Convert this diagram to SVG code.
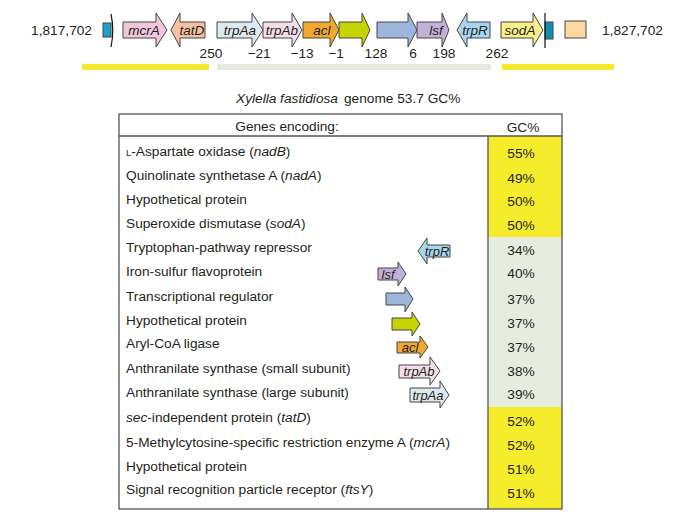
<svg xmlns="http://www.w3.org/2000/svg" width="685" height="529" viewBox="0 0 685 529">
<style>
text{font-family:"Liberation Sans",Arial,sans-serif;fill:#231f20;font-size:13.7px}
.it{font-style:italic}
.mid{text-anchor:middle}
.g{stroke:#444;stroke-width:1}
.lab{font-style:italic;text-anchor:middle;font-size:13.5px}
.tlab{font-style:italic;text-anchor:middle;font-size:13px}
</style>
<rect width="685" height="529" fill="#fff"/>
<g id="map">
  <text x="92" y="35" text-anchor="end" font-size="13.5">1,817,702</text>
  <g id="left-end">
    <rect x="103" y="23" width="8" height="14" fill="#1ca3cc" class="g"/>
    <path d="M111,14 Q114.5,30 111,47" fill="none" stroke="#111" stroke-width="1.2"/>
  </g>
  <g id="mcrA"><path class="g" fill="#f2c6dc" d="M123,22 H156 V13 L167,30 L156,47 V38 H123 Z"/><text class="lab" x="144" y="35">mcrA</text></g>
  <g id="tatD"><path class="g" fill="#f6c1a2" d="M205,22 H180 V13 L171,30 L180,47 V38 H205 Z"/><text class="lab" x="192" y="35">tatD</text></g>
  <g id="trpAa"><path class="g" fill="#dde9ef" d="M217,22 H252 V13 L263,30 L252,47 V38 H217 Z"/><text class="lab" x="240" y="35">trpAa</text></g>
  <g id="trpAb"><path class="g" fill="#f3dfea" d="M263,22 H292 V13 L302,30 L292,47 V38 H263 Z"/><text class="lab" x="282" y="35">trpAb</text></g>
  <g id="acl"><path class="g" fill="#f0a830" d="M303,22 H330 V13 L339,30 L330,47 V38 H303 Z"/><text class="lab" x="322" y="35">acl</text></g>
  <g id="hyp"><path class="g" fill="#c8d400" d="M339,22 H362 V13 L370,30 L362,47 V38 H339 Z"/></g>
  <g id="reg"><path class="g" fill="#9db7dc" d="M377,22 H408 V13 L417,30 L408,47 V38 H377 Z"/></g>
  <g id="lsf"><path class="g" fill="#c3b1dc" d="M417,22 H442 V13 L449,30 L442,47 V38 H417 Z"/><text class="lab" x="436" y="35">lsf</text></g>
  <g id="trpR"><path class="g" fill="#a9d6ee" d="M490,22 H467 V13 L457,30 L467,47 V38 H490 Z"/><text class="lab" x="475" y="35">trpR</text></g>
  <g id="sodA"><path class="g" fill="#f9f08c" d="M501,22 H533 V13 L543,30 L533,47 V38 H501 Z"/><text class="lab" x="520" y="35">sodA</text></g>
  <g id="right-end">
    <rect x="545" y="22" width="8" height="17" fill="#0e8fae" class="g"/>
    <path d="M545,13 V48" fill="none" stroke="#111" stroke-width="1.2"/>
  </g>
  <g id="box"><rect x="565" y="21" width="21" height="17" fill="#fcd9a2" class="g"/></g>
  <text x="602" y="35" font-size="13.5">1,827,702</text>
  <g>
    <text class="mid" x="211" y="58">250</text>
    <text class="mid" x="259" y="58">−21</text>
    <text class="mid" x="302" y="58">−13</text>
    <text class="mid" x="336" y="58">−1</text>
    <text class="mid" x="376" y="58">128</text>
    <text class="mid" x="413" y="58">6</text>
    <text class="mid" x="444" y="58">198</text>
    <text class="mid" x="497" y="58">262</text>
  </g>
  <rect x="82" y="64" width="127" height="6" fill="#f3ea2c"/>
  <rect x="217" y="64" width="274" height="6" fill="#e3eadb"/>
  <rect x="502" y="64" width="112" height="6" fill="#f3ea2c"/>
</g>
<text x="236" y="103"><tspan class="it">Xylella fastidiosa</tspan><tspan dx="6">genome 53.7 GC%</tspan></text>
<g id="table">
  <rect x="488" y="136" width="74" height="101" fill="#f5ec2c"/>
  <rect x="488" y="237" width="74" height="170" fill="#e6eddf"/>
  <rect x="488" y="407" width="74" height="102" fill="#f5ec2c"/>
  <rect x="119" y="114" width="443" height="395" fill="none" stroke="#555" stroke-width="1.3"/>
  <line x1="119" y1="136" x2="562" y2="136" stroke="#555" stroke-width="1.3"/>
  <line x1="488" y1="136" x2="488" y2="509" stroke="#555" stroke-width="1.3"/>
  <text class="mid" x="287" y="131">Genes encoding:</text>
  <text class="mid" x="523" y="132">GC%</text>
  <g id="rows">
    <text x="126" y="156"><tspan font-size="9.5">L</tspan>-Aspartate oxidase (<tspan class="it">nadB</tspan>)</text>
    <text x="126" y="180">Quinolinate synthetase A (<tspan class="it">nadA</tspan>)</text>
    <text x="126" y="204">Hypothetical protein</text>
    <text x="126" y="228">Superoxide dismutase (<tspan class="it">sodA</tspan>)</text>
    <text x="126" y="252">Tryptophan-pathway repressor</text>
    <text x="126" y="276">Iron-sulfur flavoprotein</text>
    <text x="126" y="301">Transcriptional regulator</text>
    <text x="126" y="325">Hypothetical protein</text>
    <text x="126" y="348">Aryl-CoA ligase</text>
    <text x="126" y="373">Anthranilate synthase (small subunit)</text>
    <text x="126" y="397">Anthranilate synthase (large subunit)</text>
    <text x="126" y="422"><tspan class="it">sec</tspan>-independent protein (<tspan class="it">tatD</tspan>)</text>
    <text x="126" y="447">5-Methylcytosine-specific restriction enzyme A (<tspan class="it">mcrA</tspan>)</text>
    <text x="126" y="471">Hypothetical protein</text>
    <text x="126" y="494">Signal recognition particle receptor (<tspan class="it">ftsY</tspan>)</text>
  </g>
  <g id="gc">
    <text class="mid" x="521" y="158">55%</text>
    <text class="mid" x="521" y="183">49%</text>
    <text class="mid" x="521" y="206">50%</text>
    <text class="mid" x="521" y="230">50%</text>
    <text class="mid" x="521" y="255">34%</text>
    <text class="mid" x="521" y="278">40%</text>
    <text class="mid" x="521" y="304">37%</text>
    <text class="mid" x="521" y="328">37%</text>
    <text class="mid" x="521" y="352">37%</text>
    <text class="mid" x="521" y="376">38%</text>
    <text class="mid" x="521" y="399">39%</text>
    <text class="mid" x="521" y="426">52%</text>
    <text class="mid" x="521" y="450">52%</text>
    <text class="mid" x="521" y="474">51%</text>
    <text class="mid" x="521" y="498">51%</text>
  </g>
  <g id="t-trpR"><path class="g" fill="#a9d6ee" d="M450,245 H427 V238 L418,251 L427,264 V257 H450 Z"/><text class="tlab" x="437" y="256">trpR</text></g>
  <g id="t-lsf"><path class="g" fill="#c3b1dc" d="M378,268 H398 V262 L406,274 L398,286 V280 H378 Z"/><text class="tlab" x="388" y="279">lsf</text></g>
  <g id="t-reg"><path class="g" fill="#9db7dc" d="M386,293 H405 V287 L413,299 L405,312 V305 H386 Z"/></g>
  <g id="t-hyp"><path class="g" fill="#c8d400" d="M392,318 H412 V312 L420,324 L412,336 V330 H392 Z"/></g>
  <g id="t-acl"><path class="g" fill="#f0a830" d="M397,342 H420 V336 L428,347 L420,358 V353 H397 Z"/><text class="tlab" x="410" y="352">acl</text></g>
  <g id="t-trpAb"><path class="g" fill="#f3dfea" d="M399,365 H430 V357 L440,371 L430,385 V378 H399 Z"/><text class="tlab" x="419" y="376">trpAb</text></g>
  <g id="t-trpAa"><path class="g" fill="#dde9ef" d="M410,388 H440 V381 L449,395 L440,408 V402 H410 Z"/><text class="tlab" x="428" y="400">trpAa</text></g>
</g>
</svg>
